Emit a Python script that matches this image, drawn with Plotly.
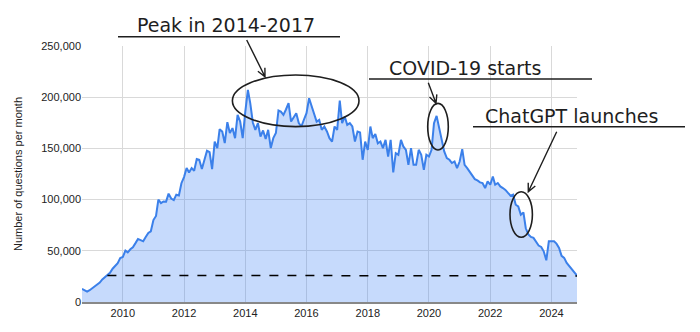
import numpy as np
import pandas as pd
import plotly.graph_objects as go

# ---- data (monthly questions on Stack Overflow), Sep 2008 .. Nov 2024 ----
start_month = "2008-09-01"
v2008 = [12900, 11500, 10200, 11500]
v2009 = [13500, 15000, 16500, 19000, 22000, 24500, 26800, 28500, 32500, 35500, 38000, 43000]
v2010 = [44000, 50200, 48500, 51500, 53500, 57500, 61600, 60500, 59300, 63500, 67400, 69000]
v2011 = [80000, 84000, 99900, 96500, 98200, 98000, 105800, 101000, 99500, 104800, 104000, 116000]
v2012 = [122000, 130800, 126500, 130800, 128200, 139600, 138900, 129800, 140000, 147700, 146400, 129800]
v2013 = [156700, 150300, 168800, 166500, 155200, 175600, 164900, 169800, 160000, 182800, 176200, 160000]
v2014 = [186000, 207100, 194200, 175300, 168100, 174700, 161600, 167500, 159100, 168100, 150300, 160000]
v2015 = [165000, 187000, 186000, 182800, 188000, 194200, 176200, 180000, 184400, 174700, 171400, 178000]
v2016 = [184400, 199000, 191500, 182800, 176200, 177900, 168100, 171400, 166500, 160000, 156700, 171400]
v2017 = [168100, 196700, 174700, 181100, 173000, 174700, 171400, 156700, 166500, 165500, 138900, 156700]
v2018 = [148600, 171400, 160000, 164000, 155000, 156700, 150300, 158400, 142100, 158400, 126500, 145400]
v2019 = [143800, 158400, 151900, 148600, 134000, 150300, 134000, 134000, 148600, 143800, 129100, 143800]
v2020 = [142100, 148600, 174700, 181800, 170000, 160000, 147000, 140500, 138900, 135700, 137200, 130800]
v2021 = [137200, 149300, 134000, 130800, 127500, 123000, 120000, 118700, 116800, 116200, 111300, 117700]
v2022 = [114500, 122600, 114500, 116200, 112900, 111300, 109500, 106500, 103800, 104800, 95000, 93400]
v2023 = [85300, 87500, 72000, 66000, 63500, 62600, 59300, 55100, 53800, 49500, 40700, 59300]
v2024 = [59300, 59300, 57000, 52800, 45000, 43100, 38200, 34900, 31700, 29000, 25800]

values = (v2008 + v2009 + v2010 + v2011 + v2012 + v2013 + v2014 + v2015 + v2016
          + v2017 + v2018 + v2019 + v2020 + v2021 + v2022 + v2023 + v2024)
dates = pd.date_range(start_month, periods=len(values), freq="MS")

# reference level (dashed)
ref_x = ["2009-07-01", "2024-11-01"]
ref_y = [26000, 25500]

tick_years = ["2010", "2012", "2014", "2016", "2018", "2020", "2022", "2024"]
tick_vals_y = [0, 50000, 100000, 150000, 200000, 250000]
y_title = "Number of questions per month"

notes = ["Peak in 2014-2017", "COVID-19 starts", "ChatGPT launches"]

# ---- layout geometry (pixels) ----
W, H = 700, 332
ML, MR, MT, MB = 82, 123, 46, 30
PW, PH = W - ML - MR, H - MT - MB


def px(x):
    return (x - ML) / PW


def py(y):
    return (H - MB - y) / PH


fig = go.Figure()
fig.add_trace(go.Scatter(
    x=dates, y=values, mode="lines",
    line=dict(color="#3b80ea", width=2),
    fill="tozeroy", fillcolor="rgba(66,133,244,0.3)",
    hoverinfo="skip", showlegend=False))
fig.add_trace(go.Scatter(
    x=ref_x, y=ref_y, mode="lines",
    line=dict(color="black", width=1.5, dash="dash"),
    hoverinfo="skip", showlegend=False))

shapes = []
annotations = []

# text + underline
text_pos = [(226, 24.5), (465, 68), (571, 115.5)]
underlines = [(118, 340, 36.7), (369, 592, 79), (473, 685, 126.7)]
for t, (tx, ty), (u0, u1, uy) in zip(notes, text_pos, underlines):
    annotations.append(dict(text=t, x=px(tx), y=py(ty), xref="paper", yref="paper",
                            showarrow=False, xanchor="center", yanchor="middle",
                            font=dict(family="DejaVu Sans", size=19, color="#1e1e1e")))
    shapes.append(dict(type="line", xref="paper", yref="paper",
                       x0=px(u0), x1=px(u1), y0=py(uy), y1=py(uy),
                       line=dict(color="#1e1e1e", width=1.5)))

# ellipses (center x, center y, rx, ry)
ellipses = [(295.7, 100.8, 63.3, 25.8), (438, 126.7, 10.3, 23.3), (521.2, 214.5, 11.2, 22.8)]
for cx, cy, rx, ry in ellipses:
    shapes.append(dict(type="circle", xref="paper", yref="paper",
                       x0=px(cx - rx), x1=px(cx + rx), y0=py(cy + ry), y1=py(cy - ry),
                       line=dict(color="#1e1e1e", width=1.6)))

# arrows (tail -> tip)
arrows = [((246.7, 40), (265, 76.7)), ((428.3, 82.7), (436, 103.3)), ((556.7, 131.7), (528.3, 191.7))]
for (x0, y0), (x1, y1) in arrows:
    d = np.array([x1 - x0, y1 - y0], dtype=float)
    d /= np.linalg.norm(d)
    L = 9
    pts = []
    for ang in (0.45, -0.45):
        c, s = np.cos(ang), np.sin(ang)
        r = np.array([c * -d[0] - s * -d[1], s * -d[0] + c * -d[1]])
        pts.append((x1 + L * r[0], y1 + L * r[1]))
    path = (f"M {px(x0)},{py(y0)} L {px(x1)},{py(y1)} "
            f"M {px(pts[0][0])},{py(pts[0][1])} L {px(x1)},{py(y1)} L {px(pts[1][0])},{py(pts[1][1])}")
    shapes.append(dict(type="path", xref="paper", yref="paper", path=path,
                       line=dict(color="#1e1e1e", width=1.4)))

fig.update_layout(
    width=W, height=H,
    margin=dict(l=ML, r=MR, t=MT, b=MB),
    paper_bgcolor="white", plot_bgcolor="white",
    font=dict(family="Liberation Sans, Arial", size=11, color="#222"),
    shapes=shapes, annotations=annotations,
    xaxis=dict(
        range=[dates[0], dates[-1]],
        tickvals=[pd.Timestamp(y + "-01-01") for y in tick_years],
        ticktext=tick_years,
        showgrid=True, gridcolor="#d9d9d9", gridwidth=1,
        showline=True, linecolor="#888", linewidth=1.5,
        zeroline=False, ticks="", tickfont=dict(size=11, color="#222"),
    ),
    yaxis=dict(
        range=[0, 250000], tickvals=tick_vals_y, tickformat=",",
        showgrid=True, gridcolor="#d9d9d9", gridwidth=1,
        zeroline=False, ticks="", tickfont=dict(size=11, color="#222"),
        title=dict(text=y_title, font=dict(size=11, color="#222"), standoff=16),
    ),
)

fig.write_html("out.html")
